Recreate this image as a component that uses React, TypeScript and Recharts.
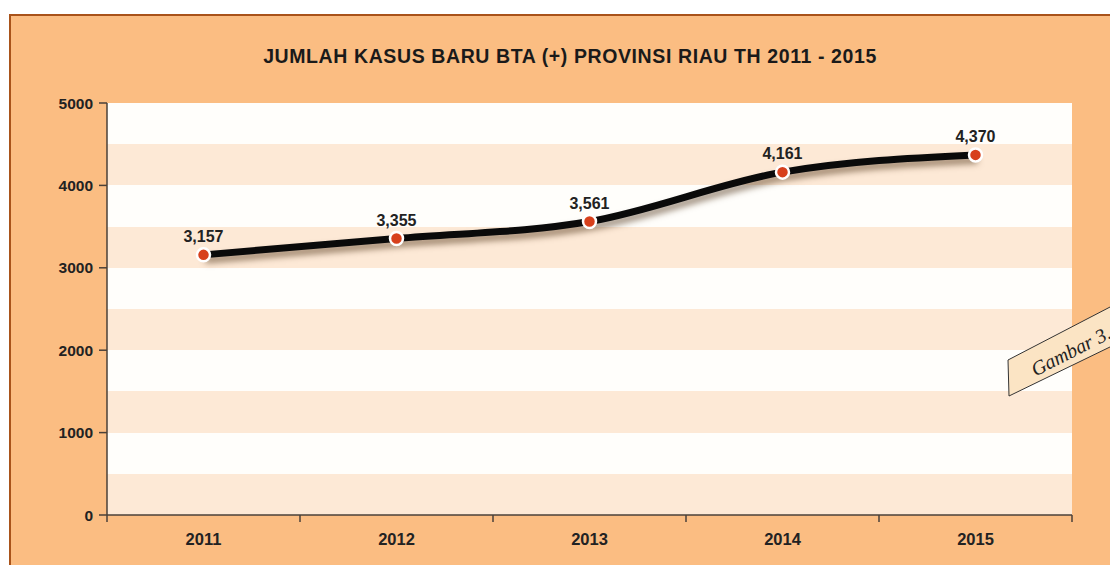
import React from 'react';
import { LineChart, Line, XAxis, YAxis, CartesianGrid, LabelList } from 'recharts';

const years = ['2011', '2012', '2013', '2014', '2015'];
const cases = [3157, 3355, 3561, 4161, 4370];
// every 500 forms a stripe; only the thousands get a label
const yStops = [0, 500, 1000, 1500, 2000, 2500, 3000, 3500, 4000, 4500, 5000];
const yLabelled = [0, 1000, 2000, 3000, 4000, 5000];

const W = 1110;
const H = 565;
const M = { top: 103, right: 38, bottom: 20, left: 47 };
const Y_AXIS_W = 60;
const X_AXIS_H = 30;
const PLOT_L = M.left + Y_AXIS_W;
const PLOT_R = W - M.right;
const PLOT_B = H - M.bottom - X_AXIS_H;
const STEP = (PLOT_R - PLOT_L) / years.length;

const AXIS = '#4a4038';
const FONT = 'Liberation Sans, Arial, sans-serif';

const data = years.map((year, i) => ({ year, value: cases[i] }));

function XTick(props: any) {
  const { x, payload, index } = props;
  const half = STEP / 2;
  return (
    <g>
      <line x1={x - half} x2={x - half} y1={PLOT_B} y2={PLOT_B + 7} stroke={AXIS} strokeWidth={1.5} />
      {index === years.length - 1 && (
        <line x1={x + half} x2={x + half} y1={PLOT_B} y2={PLOT_B + 7} stroke={AXIS} strokeWidth={1.5} />
      )}
      <text x={x} y={PLOT_B + 30} textAnchor="middle" fontFamily={FONT} fontWeight="bold" fontSize={16.5} fill="#222">
        {payload.value}
      </text>
    </g>
  );
}

function YTick(props: any) {
  const { y, payload } = props;
  if (!yLabelled.includes(payload.value)) return <g />;
  return (
    <g>
      <line x1={PLOT_L - 8} x2={PLOT_L} y1={y} y2={y} stroke={AXIS} strokeWidth={1.5} />
      <text x={PLOT_L - 14} y={y} dy="0.36em" textAnchor="end" fontFamily={FONT} fontWeight="bold" fontSize={15.5} fill="#222">
        {payload.value}
      </text>
    </g>
  );
}

export default function App() {
  return (
    <div style={{ position: 'absolute', left: 0, top: 0, width: W, height: H, background: '#fff', overflow: 'hidden' }}>
      <style>{`.recharts-line-curve { filter: drop-shadow(2px 5px 3px rgba(60,30,0,0.5)); }`}</style>
      <div
        style={{
          position: 'absolute',
          left: 9,
          top: 14,
          width: W,
          height: H,
          background: '#fbbd82',
          border: '2px solid #a9531a',
        }}
      />
      <div
        style={{
          position: 'absolute',
          left: 0,
          top: 45,
          width: 1140,
          textAlign: 'center',
          fontFamily: FONT,
          fontWeight: 'bold',
          fontSize: 19.5,
          letterSpacing: 0.6,
          color: '#1a1a1a',
        }}
      >
        JUMLAH KASUS BARU BTA (+) PROVINSI RIAU TH 2011 - 2015
      </div>
      <div style={{ position: 'absolute', left: 0, top: 0 }}>
        <LineChart width={W} height={H} data={data} margin={M}>
          <CartesianGrid
            vertical={false}
            stroke="none"
            fill="#fffefb"
            horizontalFill={['#fffefb', '#fde9d6']}
          />
          <XAxis
            dataKey="year"
            height={X_AXIS_H}
            padding={{ left: STEP / 2, right: STEP / 2 }}
            axisLine={{ stroke: AXIS, strokeWidth: 1.5 }}
            tickLine={false}
            tick={<XTick />}
            interval={0}
          />
          <YAxis
            width={Y_AXIS_W}
            domain={[0, 5000]}
            ticks={yStops}
            interval={0}
            axisLine={{ stroke: AXIS, strokeWidth: 1.5 }}
            tickLine={false}
            tick={<YTick />}
          />
          <Line
            type="monotone"
            dataKey="value"
            stroke="#0a0a0a"
            strokeWidth={7}
            isAnimationActive={false}
            dot={{ r: 6.5, fill: '#d7401c', stroke: '#fff', strokeWidth: 2.5, fillOpacity: 1 }}
            activeDot={false}
          >
            <LabelList
              dataKey="value"
              position="top"
              offset={13}
              formatter={(v: any) => Number(v).toLocaleString('en-US')}
              style={{ fontFamily: FONT, fontWeight: 'bold', fontSize: 16, fill: '#222' }}
            />
          </Line>
        </LineChart>
      </div>
      <svg style={{ position: 'absolute', left: 0, top: 0 }} width={W} height={H}>
        <polygon points="1008,360 1112,306 1112,346 1009,396" fill="#fbe4c4" stroke="#333" strokeWidth={1} />
        <text
          x={1074}
          y={357}
          transform="rotate(-27 1074 357)"
          textAnchor="middle"
          fontFamily="Liberation Serif, Times New Roman, serif"
          fontStyle="italic"
          fontSize={20}
          fill="#222"
        >
          Gambar 3.
        </text>
      </svg>
    </div>
  );
}
